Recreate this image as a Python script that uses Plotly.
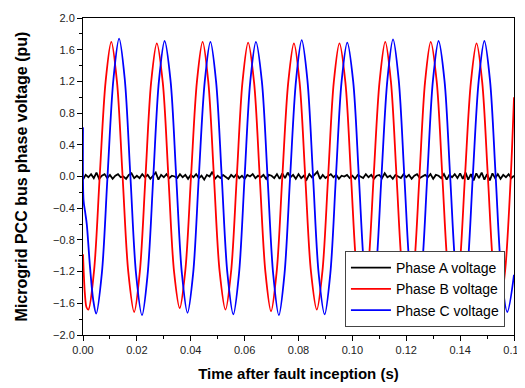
import plotly.graph_objects as go

# ---- data ----
# Phase A: small noise around zero, sampled every 1 ms from 0 to 0.16 s
phase_a_step = 0.001
phase_a_values = [
    -0.04, 0.02, -0.01, 0.03, -0.02, 0.05, -0.03, 0.01, 0.03, -0.02,
    0.02, -0.03, 0.01, 0.03, -0.01, 0.00, -0.03, 0.02, 0.04, -0.02,
    0.01, -0.02, 0.03, -0.01, 0.02, -0.03, 0.01, 0.05, -0.04, 0.02,
    -0.01, 0.03, -0.02, 0.01, 0.00, -0.02, 0.03, -0.01, 0.02, -0.03,
    0.02, -0.01, 0.03, -0.02, 0.01, -0.04, 0.02, 0.00, 0.06, -0.03,
    0.01, -0.02, 0.02, 0.00, -0.03, 0.02, -0.01, 0.03, -0.02, 0.01,
    -0.03, 0.02, 0.00, 0.03, -0.02, 0.01, -0.01, 0.02, -0.03, 0.02,
    0.01, -0.02, 0.03, -0.03, 0.04, -0.02, 0.05, -0.01, 0.02, -0.03,
    0.03, -0.02, 0.01, -0.04, 0.03, -0.01, 0.02, 0.06, -0.03, 0.02,
    -0.02, 0.01, 0.03, -0.01, 0.02, -0.03, 0.01, 0.00, 0.02, -0.02,
    0.01, -0.03, 0.02, 0.00, -0.02, 0.03, -0.01, 0.02, -0.03, 0.01,
    0.02, -0.02, 0.04, -0.01, 0.01, -0.03, 0.02, 0.00, -0.02, 0.03,
    -0.01, 0.02, -0.03, 0.01, 0.03, -0.02, 0.00, 0.02, -0.01, 0.03,
    -0.03, 0.02, 0.01, -0.02, 0.03, -0.04, 0.02, -0.01, 0.03, -0.02,
    0.04, -0.03, 0.05, -0.04, 0.03, -0.05, 0.04, -0.02, 0.05, -0.04,
    0.03, -0.05, 0.04, -0.02, 0.03, -0.03, 0.02, -0.01, 0.03, -0.02,
    0.01,
]
phase_a_time = [round(i * phase_a_step, 4) for i in range(len(phase_a_values))]

# Phase B: key points (troughs, crossings, peaks)
phase_b_time = [
    0.0000, 0.0007, 0.0013,
    0.0020, 0.0041, 0.0062, 0.0084, 0.0105, 0.0126, 0.0147, 0.0168,
    0.0190, 0.0211, 0.0232, 0.0253, 0.0274, 0.0296, 0.0317, 0.0338,
    0.0359, 0.0380, 0.0401, 0.0423, 0.0444, 0.0465, 0.0486, 0.0507,
    0.0529, 0.0550, 0.0571, 0.0592, 0.0613, 0.0635, 0.0656, 0.0677,
    0.0698, 0.0719, 0.0740, 0.0762, 0.0783, 0.0804, 0.0825, 0.0846,
    0.0868, 0.0889, 0.0910, 0.0931, 0.0952, 0.0974, 0.0995, 0.1016,
    0.1037, 0.1058, 0.1079, 0.1101, 0.1122, 0.1143, 0.1164, 0.1185,
    0.1207, 0.1228, 0.1249, 0.1270, 0.1291, 0.1313, 0.1334, 0.1355,
    0.1376, 0.1397, 0.1418, 0.1440, 0.1461, 0.1482, 0.1503, 0.1524,
    0.1546, 0.1567, 0.1588, 0.1600,
]
phase_b_values = [
    -0.98, -1.48, -1.65,
    -1.68, -1.19, 0.00, 1.20, 1.70, 1.20, 0.00, -1.20,
    -1.71, -1.20, 0.00, 1.19, 1.68, 1.19, 0.00, -1.20,
    -1.66, -1.18, 0.00, 1.20, 1.70, 1.20, 0.00, -1.19,
    -1.68, -1.19, 0.00, 1.19, 1.69, 1.19, 0.00, -1.20,
    -1.70, -1.20, 0.00, 1.19, 1.68, 1.19, 0.00, -1.19,
    -1.68, -1.19, 0.00, 1.19, 1.68, 1.19, 0.00, -1.20,
    -1.69, -1.19, 0.00, 1.20, 1.70, 1.20, 0.00, -1.19,
    -1.68, -1.19, 0.00, 1.20, 1.70, 1.20, 0.00, -1.20,
    -1.69, -1.19, 0.00, 1.19, 1.68, 1.19, 0.00, -1.19,
    -1.68, -1.19, 0.00, 1.00,
]

# Phase C: key points
phase_c_time = [
    0.0000, 0.0002, 0.0008, 0.0014, 0.0026, 0.0038,
    0.0049, 0.0070, 0.0091, 0.0113, 0.0134, 0.0155, 0.0176, 0.0197,
    0.0219, 0.0240, 0.0261, 0.0282, 0.0303, 0.0325, 0.0346, 0.0367,
    0.0388, 0.0409, 0.0430, 0.0452, 0.0473, 0.0494, 0.0515, 0.0536,
    0.0558, 0.0579, 0.0600, 0.0621, 0.0642, 0.0664, 0.0685, 0.0706,
    0.0727, 0.0748, 0.0769, 0.0791, 0.0812, 0.0833, 0.0854, 0.0875,
    0.0897, 0.0918, 0.0939, 0.0960, 0.0981, 0.1003, 0.1024, 0.1045,
    0.1066, 0.1087, 0.1108, 0.1130, 0.1151, 0.1172, 0.1193, 0.1214,
    0.1236, 0.1257, 0.1278, 0.1299, 0.1320, 0.1342, 0.1363, 0.1384,
    0.1405, 0.1426, 0.1447, 0.1469, 0.1490, 0.1511, 0.1532, 0.1553,
    0.1575, 0.1600,
]
phase_c_values = [
    0.62, -0.30, -0.45, -0.60, -1.14, -1.56,
    -1.73, -1.22, 0.00, 1.23, 1.74, 1.23, 0.00, -1.23,
    -1.75, -1.23, 0.00, 1.21, 1.71, 1.21, 0.00, -1.22,
    -1.72, -1.22, 0.00, 1.20, 1.70, 1.20, 0.00, -1.22,
    -1.74, -1.23, 0.00, 1.20, 1.70, 1.20, 0.00, -1.23,
    -1.75, -1.23, 0.00, 1.22, 1.72, 1.22, 0.00, -1.23,
    -1.74, -1.23, 0.00, 1.20, 1.69, 1.20, 0.00, -1.22,
    -1.73, -1.22, 0.00, 1.22, 1.73, 1.22, 0.00, -1.22,
    -1.73, -1.22, 0.00, 1.21, 1.71, 1.21, 0.00, -1.22,
    -1.73, -1.22, 0.00, 1.21, 1.71, 1.21, 0.00, -1.22,
    -1.71, -1.24,
]

series_names = ["Phase A voltage", "Phase B voltage", "Phase C voltage"]
x_title = "Time after fault inception (s)"
y_title = "Microgrid PCC bus phase voltage (pu)"

# ---- figure ----
fig = go.Figure()
fig.add_trace(go.Scatter(x=phase_a_time, y=phase_a_values, mode="lines",
                         name=series_names[0],
                         line=dict(color="black", width=1.8)))
fig.add_trace(go.Scatter(x=phase_b_time, y=phase_b_values, mode="lines",
                         name=series_names[1],
                         line=dict(color="#ff0000", width=1.8, shape="spline", smoothing=0.9)))
fig.add_trace(go.Scatter(x=phase_c_time, y=phase_c_values, mode="lines",
                         name=series_names[2],
                         line=dict(color="#0000ff", width=1.8, shape="spline", smoothing=0.9)))

font_family = "Liberation Sans, Arial, sans-serif"
# the page body adds an 8px offset, so the figure is 8px smaller than the window
fig.update_layout(
    width=517, height=380,
    margin=dict(l=75, r=11, t=10, b=53),
    paper_bgcolor="white", plot_bgcolor="white",
    font=dict(family=font_family, color="black", size=11),
    showlegend=True,
    legend=dict(
        x=0.979, y=0.025, xanchor="right", yanchor="bottom",
        bgcolor="white", bordercolor="#444444", borderwidth=1,
        font=dict(size=14, color="black", family=font_family),
        tracegroupgap=0, itemwidth=40,
    ),
)
fig.update_xaxes(
    range=[0, 0.16], dtick=0.02, tick0=0, tickformat=".2f", automargin=False,
    showgrid=False, zeroline=False,
    showline=True, linecolor="black", linewidth=1, mirror=True,
    ticks="outside", ticklen=5, tickcolor="black", tickwidth=1,
    minor=dict(ticks="outside", ticklen=3, dtick=0.01, tickcolor="black", showgrid=False),
    tickfont=dict(size=11, color="#222222"),
    title=dict(text="<b>" + x_title + "</b>", font=dict(size=15, color="black"), standoff=13),
)
fig.update_yaxes(
    range=[-2.0, 2.0], dtick=0.4, tick0=0, tickformat=".1f", automargin=False,
    showgrid=False, zeroline=False,
    showline=True, linecolor="black", linewidth=1, mirror=True,
    ticks="outside", ticklen=5, tickcolor="black", tickwidth=1,
    minor=dict(ticks="outside", ticklen=3, dtick=0.2, tickcolor="black", showgrid=False),
    tickfont=dict(size=11, color="#222222"),
    title=dict(text="<b>" + y_title + "</b>", font=dict(size=16, color="black"), standoff=21),
)

fig.write_html("out.html")
